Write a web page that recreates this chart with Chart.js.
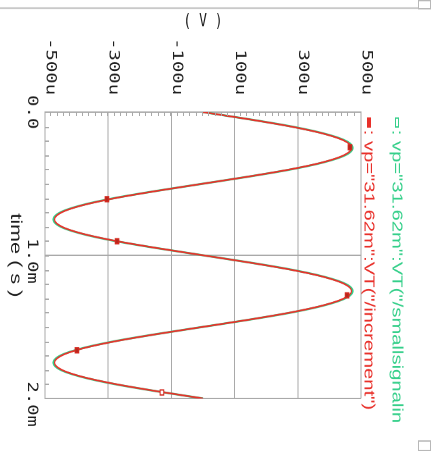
<!DOCTYPE html>
<html><head><meta charset="utf-8">
<script src="https://cdn.jsdelivr.net/npm/chart.js@4.4.1/dist/chart.umd.min.js"></script>
<style>
html,body{margin:0;padding:0;background:#fff;overflow:hidden;width:442px;height:466px}
#wrap{position:absolute;left:0;top:0;width:345px;height:442px;transform-origin:0 0;transform:translate(442px,0) rotate(90deg) scale(1.35072,1)}
</style></head><body>
<div id="wrap"><canvas id="c" width="345" height="442"></canvas></div>
<script>
// ---- data (time in ms, voltage in uV) ----
const timeMs = [0,0.05,0.1,0.15,0.2,0.25,0.3,0.35,0.4,0.45,0.5,0.55,0.6,0.65,0.7,0.75,0.8,0.85,0.9,0.95,
  1.0,1.05,1.1,1.15,1.2,1.25,1.3,1.35,1.4,1.45,1.5,1.55,1.6,1.65,1.7,1.75,1.8,1.85,1.9,1.95,2.0];
const vSmallSignal = [0,146,279,383,451,474,451,383,279,146,0,-146,-279,-383,-451,-474,-451,-383,-279,-146,
  0,146,279,383,451,474,451,383,279,146,0,-146,-279,-383,-451,-474,-451,-383,-279,-146,0];
const vIncrement = [0,145,276,380,447,470,447,380,276,145,0,-145,-276,-380,-447,-470,-447,-380,-276,-145,
  0,145,276,380,447,470,447,380,276,145,0,-145,-276,-380,-447,-470,-447,-380,-276,-145,0];
const markerTimeMs = [0.245,0.608,0.902,1.28,1.664,1.958];
const markerValues = [465,-304,-272,456,-399,-130];
const markerHollow = [false,false,false,false,false,true];
const xTickValues = [0,1,2];
const xTickLabels = ['0.0','1.0m','2.0m'];
const yTickValues = [-500,-300,-100,100,300,500];
const yTickLabels = ['-500u','-300u','-100u','100u','300u','500u'];
const seriesNames = [': vp="31.62m":VT("/smallsignalin', ': vp="31.62m":VT("/increment")'];
const xTitle = 'time ( s )';
const yTitle = '( V )';
const xMinorStep = 0.1;
const yMinorStep = 20;

const GREEN = '#35cf8a', RED = '#e8302a', GRID = '#a9a9a9', TXT = '#1e1e1e';

const minorTicks = {
  id: 'minorTicks',
  afterDraw(chart) {
    const {ctx, chartArea: a, scales: {x, y}} = chart;
    ctx.save();
    ctx.strokeStyle = GRID; ctx.lineWidth = 1;
    ctx.beginPath();
    for (let v = y.min + yMinorStep; v < y.max; v += yMinorStep) {
      const py = Math.round(y.getPixelForValue(v)) + 0.5;
      ctx.moveTo(a.left, py); ctx.lineTo(a.left + 3, py);
    }
    for (let k = 1; k * xMinorStep < x.max - 1e-9; k++) {
      const px = Math.round(x.getPixelForValue(k * xMinorStep)) + 0.5;
      ctx.moveTo(px, a.bottom); ctx.lineTo(px, a.bottom - 4);
    }
    ctx.stroke();
    ctx.restore();
  }
};

// legend: symbol box + coloured text per series, two rows above the plot
const seriesLegend = {
  id: 'seriesLegend',
  afterDraw(chart) {
    const ctx = chart.ctx;
    const rows = [{ds: 0, y: 45, hollow: true}, {ds: 1, y: 73, hollow: false}];
    ctx.save();
    ctx.font = '15px "Liberation Sans", Arial, sans-serif';
    ctx.textBaseline = 'middle'; ctx.textAlign = 'left';
    rows.forEach(r => {
      const ds = chart.data.datasets[r.ds];
      const col = ds.borderColor;
      const bx = 87.4, bw = 6.6, bh = 3;
      if (r.hollow) {
        ctx.fillStyle = '#ffffff'; ctx.fillRect(bx, r.y - bh / 2, bw, bh);
        ctx.strokeStyle = col; ctx.lineWidth = 1; ctx.strokeRect(bx, r.y - bh / 2, bw, bh);
      } else {
        ctx.fillStyle = col; ctx.fillRect(bx - 0.5, r.y - bh / 2 - 0.5, bw + 1, bh + 1);
      }
      ctx.fillStyle = col;
      ctx.fillText(ds.label, 96, r.y + 0.5);
    });
    ctx.restore();
  }
};

const chrome = {
  id: 'chrome',
  beforeDraw(chart) {
    const ctx = chart.ctx;
    ctx.save();
    ctx.strokeStyle = '#c4c4c4'; ctx.lineWidth = 1.2;
    ctx.beginPath(); ctx.moveTo(6, 24); ctx.lineTo(6, 442); ctx.stroke();
    ctx.strokeStyle = '#b8b8b8'; ctx.lineWidth = 1;
    ctx.strokeRect(0.5, 11.5, 6, 12);
    ctx.strokeRect(326.5, 11.5, 7, 12);
    ctx.restore();
  }
};

new Chart(document.getElementById('c'), {
  type: 'line',
  data: {
    datasets: [
      {label: seriesNames[0], data: timeMs.map((t, i) => ({x: t, y: vSmallSignal[i]})),
       borderColor: GREEN, borderWidth: 1.6, pointRadius: 0, cubicInterpolationMode: 'monotone', fill: false, order: 2},
      {label: seriesNames[1], data: timeMs.map((t, i) => ({x: t, y: vIncrement[i]})),
       borderColor: RED, borderWidth: 1.25, pointRadius: 0, cubicInterpolationMode: 'monotone', fill: false, order: 1},
      {label: 'markers', data: markerTimeMs.map((t, i) => ({x: t, y: markerValues[i]})),
       showLine: false, pointStyle: 'rect', pointRadius: 2.6,
       pointBackgroundColor: markerHollow.map(h => h ? '#ffffff' : '#b8281e'),
       pointBorderColor: '#d42a20', pointBorderWidth: 1, order: 0}
    ]
  },
  options: {
    responsive: false, animation: false, devicePixelRatio: 2,
    layout: {padding: {left: 0, right: 50, top: 81, bottom: 0}},
    plugins: {tooltip: {enabled: false}, legend: {display: false}},
    scales: {
      x: {
        type: 'linear', min: 0, max: 2,
        afterBuildTicks: s => { s.ticks = xTickValues.map(v => ({value: v})); },
        ticks: {callback: (v, i) => xTickLabels[i], font: {family: 'DejaVu Sans Mono', size: 14}, color: TXT,
                padding: 5, align: 'start', labelOffset: -12.6, maxRotation: 0, autoSkip: false},
        grid: {color: GRID, lineWidth: 1, drawTicks: false},
        border: {display: true, color: GRID},
        title: {display: true, text: xTitle, font: {family: 'Liberation Sans', size: 16}, color: TXT, padding: {top: 0, bottom: 6}},
        afterFit: s => { s.height = 45; }
      },
      y: {
        type: 'linear', min: -500, max: 500,
        afterBuildTicks: s => { s.ticks = yTickValues.map(v => ({value: v})); },
        ticks: {callback: (v, i) => yTickLabels[i], font: {family: 'DejaVu Sans Mono', size: 14}, color: TXT,
                padding: 12.6, labelOffset: -5, autoSkip: false},
        grid: {color: GRID, lineWidth: 1, drawTicks: false},
        border: {display: true, color: GRID},
        title: {display: true, text: yTitle, font: {family: 'DejaVu Sans Mono', size: 13}, color: TXT, padding: {top: 8.2, bottom: 0}},
        afterFit: s => { s.width = 83; }
      }
    }
  },
  plugins: [minorTicks, seriesLegend, chrome]
});
</script>
</body></html>
